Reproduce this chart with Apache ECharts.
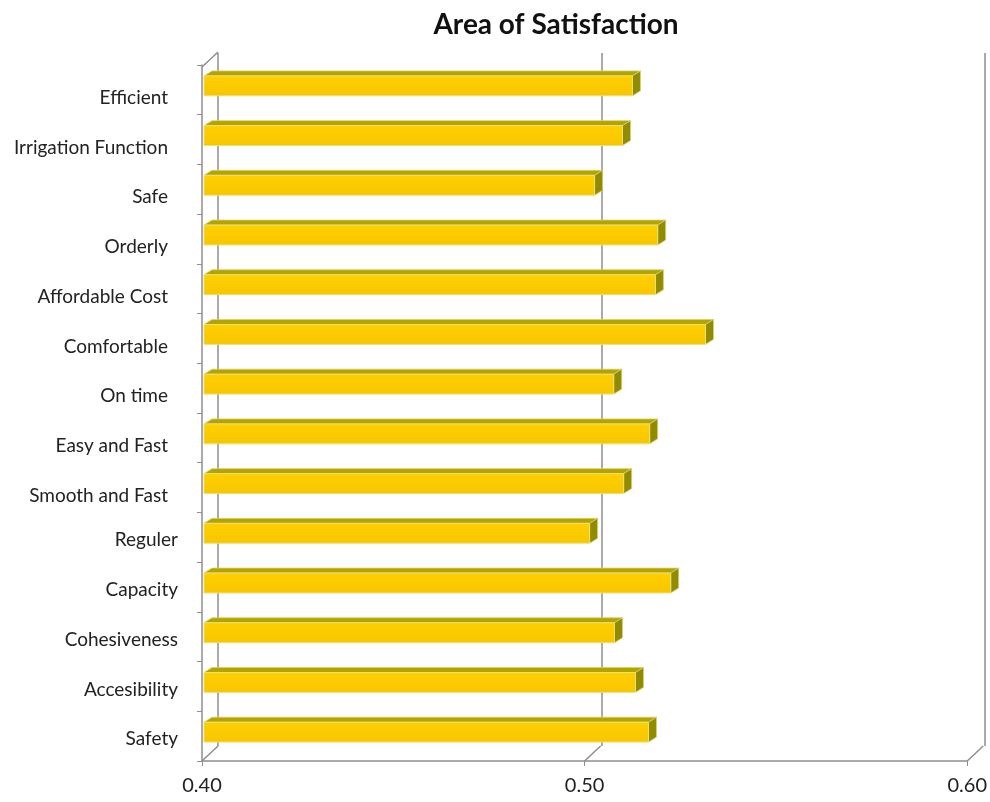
<!DOCTYPE html>
<html>
<head>
<meta charset="utf-8">
<script src="https://cdn.jsdelivr.net/npm/echarts@6/dist/echarts.min.js"></script>
<style>html,body{margin:0;padding:0;background:#fff}#c{width:990px;height:802px}</style>
</head>
<body>
<div id="c"></div>
<script>
var categories = ['Efficient','Irrigation Function','Safe','Orderly','Affordable Cost','Comfortable','On time','Easy and Fast','Smooth and Fast','Reguler','Capacity','Cohesiveness','Accesibility','Safety'];
var values = [0.5125,0.5099,0.5026,0.5191,0.5185,0.5316,0.5076,0.5170,0.5102,0.5013,0.5225,0.5078,0.5133,0.5167];
var xTicks = [0.40, 0.50, 0.60];
var xMin = 0.40, xMax = 0.60, xStep = 0.10;

var FONT = 'Lato, "Open Sans", sans-serif';
var DX = 16, DY = -15;      // wall depth offset
var BDX = 8, BDY = -5;      // bar depth offset
var GRID_COLOR = '#8e8e8e';

var chart = echarts.init(document.getElementById('c'), null, {renderer:'canvas'});

var yData = categories.map(function(c, i){
  return {value: c, textStyle: i < 9
    ? {verticalAlign: 'top', lineHeight: 16, padding: [0, 10, 0, 0]}
    : {verticalAlign: 'top', lineHeight: 6, padding: [0, 0, 0, 0]}};
});

var option = {
  backgroundColor: '#ffffff',
  animation: false,
  title: {
    text: 'Area of Satisfaction', left: 551, top: 6, textAlign: 'center',
    textStyle: {fontFamily: FONT, fontSize: 28, fontWeight: 'bold', color: '#111'}
  },
  grid: [
    {left: 202, right: 22, top: 65, bottom: 41},
    {left: 218, right: 5, top: 53, bottom: 56}
  ],
  xAxis: [
    {type: 'value', gridIndex: 0, min: xMin, max: xMax, interval: xStep,
     axisLine: {show: true, lineStyle: {color: GRID_COLOR, width: 1.5}},
     axisTick: {show: true, length: 5, lineStyle: {color: GRID_COLOR}},
     splitLine: {show: false},
     axisLabel: {margin: 15, fontFamily: FONT, fontSize: 20, color: '#222',
       formatter: function(v){ return v.toFixed(2); }}},
    {type: 'value', gridIndex: 1, min: xMin, max: xMax, interval: xStep,
     axisLine: {show: false}, axisTick: {show: false}, axisLabel: {show: false},
     splitLine: {show: true, lineStyle: {color: GRID_COLOR, width: 1.5}}}
  ],
  yAxis: [
    {type: 'category', gridIndex: 0, inverse: true, data: yData,
     axisLine: {show: true, lineStyle: {color: GRID_COLOR, width: 1.5}},
     axisTick: {show: true, length: 5, lineStyle: {color: GRID_COLOR}},
     axisLabel: {margin: 24, fontFamily: FONT, fontSize: 19, color: '#222'},
     splitLine: {show: false}},
    {type: 'category', gridIndex: 1, inverse: true, data: categories, show: false}
  ],
  series: [
    {
      type: 'custom', xAxisIndex: 0, yAxisIndex: 0, silent: true,
      data: xTicks.map(function(v){ return [v]; }),
      renderItem: function(params, api){
        var cs = params.coordSys;
        var x = api.coord([api.value(0), categories[0]])[0];
        var yb = cs.y + cs.height;
        var children = [{
          type: 'line',
          shape: {x1: x, y1: yb, x2: x + DX, y2: yb + DY},
          style: {stroke: GRID_COLOR, lineWidth: 1.5}
        }];
        if (params.dataIndex === 0) {
          children.push({
            type: 'line',
            shape: {x1: x, y1: cs.y + 2, x2: x + DX, y2: cs.y + 2 + DY},
            style: {stroke: GRID_COLOR, lineWidth: 1.5}
          });
        }
        return {type: 'group', children: children};
      }
    },
    {
      type: 'custom', xAxisIndex: 0, yAxisIndex: 0,
      data: values.map(function(v, i){ return [v, i]; }),
      renderItem: function(params, api){
        var v = api.value(0), i = api.value(1);
        var p0 = api.coord([xMin, i]);
        var p1 = api.coord([v, i]);
        var bandH = api.size([0, 1])[1];
        var h = bandH * 0.4;
        var yc = p0[1] - 4;
        var x0 = p0[0] + 2, x1 = p1[0];
        var yt = yc - h / 2, ybt = yc + h / 2;
        return {
          type: 'group',
          children: [
            {type: 'polygon',
             shape: {points: [[x0, yt], [x0 + BDX, yt + BDY], [x1 + BDX, yt + BDY], [x1, yt]]},
             style: {fill: '#b5a400', stroke: '#d8d070', lineWidth: 0.8}},
            {type: 'polygon',
             shape: {points: [[x1, yt], [x1 + BDX, yt + BDY], [x1 + BDX, ybt + BDY], [x1, ybt]]},
             style: {fill: '#908b00', stroke: '#d8d070', lineWidth: 0.8}},
            {type: 'rect',
             shape: {x: x0, y: yt, width: x1 - x0, height: h},
             style: {
               fill: new echarts.graphic.LinearGradient(0, 0, 0, 1, [
                 {offset: 0, color: '#ffcf00'}, {offset: 1, color: '#f7c600'}]),
               stroke: '#e6e27a', lineWidth: 1}}
          ]
        };
      }
    }
  ]
};
chart.setOption(option);
</script>
</body>
</html>
